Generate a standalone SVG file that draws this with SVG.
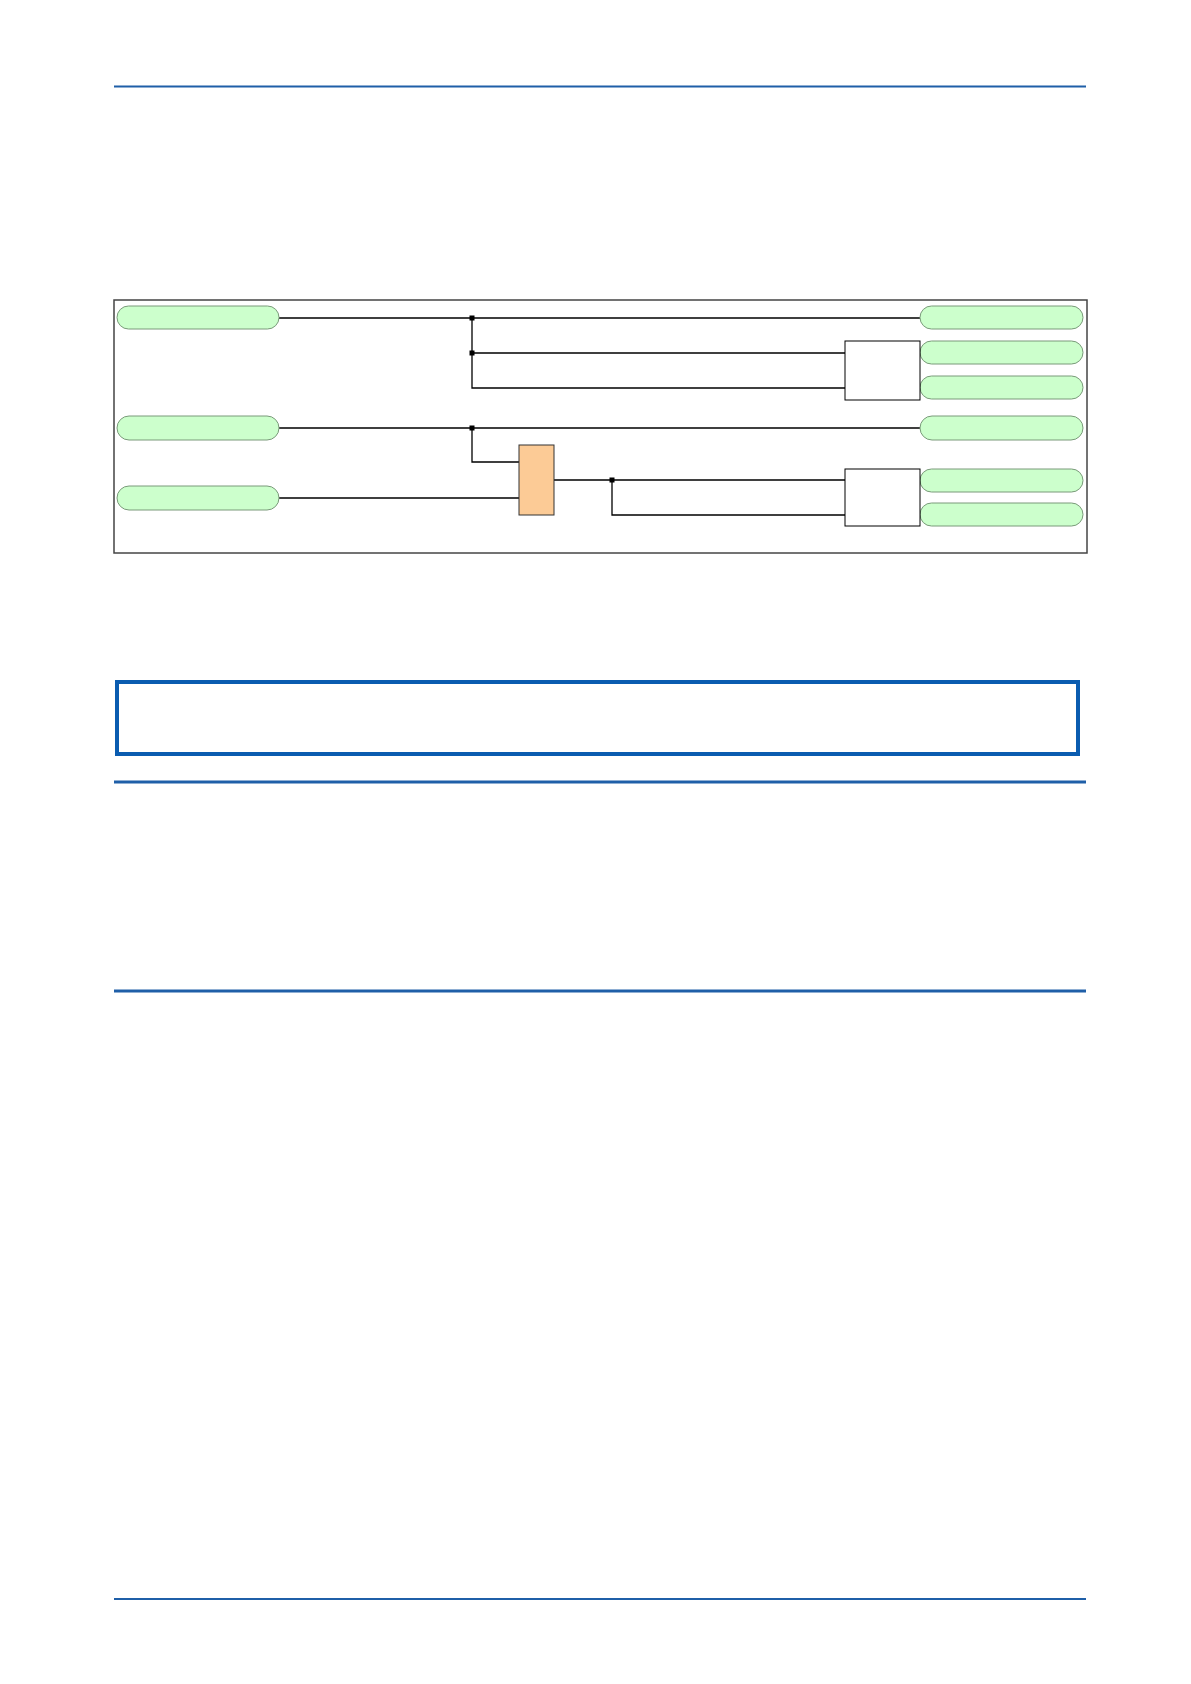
<svg xmlns="http://www.w3.org/2000/svg" width="1191" height="1684" viewBox="0 0 1191 1684">
<style>
.rule{stroke:#1f5fa8;stroke-width:2}
.pill{fill:#ccffcc;stroke:#7a9a7a;stroke-width:1}
.box{fill:#fff;stroke:#000;stroke-width:1}
.w{fill:none;stroke:#000;stroke-width:1.3}
.dot{fill:#000}
</style>
<rect width="1191" height="1684" fill="#fff"/>
<line class="rule" x1="114" y1="86.5" x2="1086" y2="86.5"/>
<line class="rule" x1="114" y1="782" x2="1086" y2="782" style="stroke-width:3"/>
<line class="rule" x1="114" y1="991" x2="1086" y2="991" style="stroke-width:3"/>
<line class="rule" x1="114" y1="1599" x2="1086" y2="1599"/>
<rect x="117" y="682" width="961" height="72" fill="none" stroke="#0a5cb0" stroke-width="4"/>
<rect x="114" y="300" width="973" height="253" fill="none" stroke="#444" stroke-width="1.5"/>
<g id="connectors">
<path class="w" d="M279 318H920M472 318V388H845M472 353H845M279 428H920M472 428V462H519M279 498H519M554 480H845M612 480V515H845"/>
<rect class="dot" x="469.5" y="315.5" width="5" height="5"/>
<rect class="dot" x="469.5" y="350.5" width="5" height="5"/>
<rect class="dot" x="469.5" y="425.5" width="5" height="5"/>
<rect class="dot" x="609.5" y="477.5" width="5" height="5"/>
</g>
<g id="in1"><rect class="pill" x="117" y="306" width="162" height="23" rx="11.5"/></g>
<g id="in2"><rect class="pill" x="117" y="416" width="162" height="24" rx="12"/></g>
<g id="in3"><rect class="pill" x="117" y="486" width="162" height="24" rx="12"/></g>
<g id="out1"><rect class="pill" x="920" y="306" width="163" height="23" rx="11.5"/></g>
<g id="out2"><rect class="pill" x="920" y="341" width="163" height="23" rx="11.5"/></g>
<g id="out3"><rect class="pill" x="920" y="376" width="163" height="23" rx="11.5"/></g>
<g id="out4"><rect class="pill" x="920" y="416" width="163" height="24" rx="12"/></g>
<g id="out5"><rect class="pill" x="920" y="469" width="163" height="23" rx="11.5"/></g>
<g id="out6"><rect class="pill" x="920" y="503" width="163" height="23" rx="11.5"/></g>
<g id="box1"><rect class="box" x="845" y="341" width="75" height="59"/></g>
<g id="box2"><rect class="box" x="845" y="469" width="75" height="57"/></g>
<g id="gate"><rect x="519" y="445" width="35" height="70" fill="#fccb96" stroke="#333" stroke-width="1"/></g>
</svg>
